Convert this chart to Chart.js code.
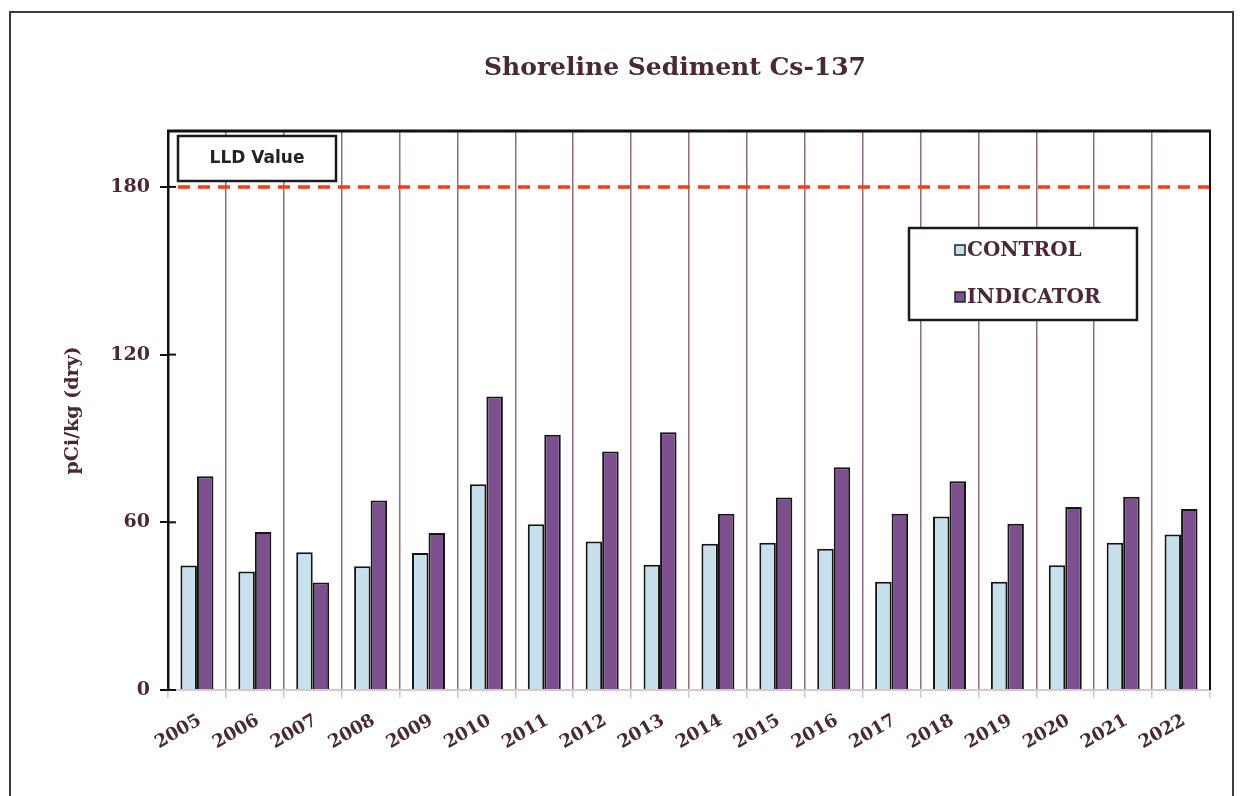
<!DOCTYPE html>
<html>
<head>
<meta charset="utf-8">
<script src="https://cdn.jsdelivr.net/npm/chart.js@4.4.1/dist/chart.umd.min.js"></script>
<style>
  html, body { margin: 0; padding: 0; background: #ffffff; }
  #wrap { width: 1243px; height: 796px; position: relative; }
</style>
</head>
<body>
<div id="wrap"><canvas id="c" width="1243" height="796"></canvas></div>
<script>
const categories = ['2005','2006','2007','2008','2009','2010','2011','2012','2013','2014','2015','2016','2017','2018','2019','2020','2021','2022'];
const controlValues = [44.5, 42.4, 49.3, 44.3, 49.0, 73.6, 59.3, 53.1, 44.8, 52.3, 52.7, 50.5, 38.7, 62.1, 38.7, 44.6, 52.7, 55.6];
const indicatorValues = [76.5, 56.5, 38.5, 67.8, 56.2, 105.0, 91.3, 85.3, 92.2, 63.1, 68.9, 79.7, 63.1, 74.7, 59.5, 65.5, 69.1, 64.8];
const yTickValues = [0, 60, 120, 180];
const yMin = 0;
const yMax = 200;
const lldValue = 180;
const chartTitle = 'Shoreline Sediment Cs-137';
const yAxisTitle = 'pCi/kg (dry)';
const lldLabel = 'LLD Value';
const seriesNames = ['CONTROL', 'INDICATOR'];

const TEXT = '#4a2838';
const SERIF = '"DejaVu Serif", "Liberation Serif", serif';

const decorPlugin = {
  id: 'decor',
  beforeDraw(chart) {
    const ctx = chart.ctx;
    ctx.save();
    ctx.fillStyle = '#ffffff';
    ctx.fillRect(0, 0, chart.width, chart.height);
    ctx.restore();
  },
  afterDatasetsDraw(chart) {
    const ctx = chart.ctx;
    const a = chart.chartArea;
    const y = chart.scales.y;
    ctx.save();
    // LLD dashed line
    const ly = y.getPixelForValue(lldValue);
    ctx.strokeStyle = '#ff3a12';
    ctx.lineWidth = 3.5;
    ctx.setLineDash([12, 8]);
    ctx.beginPath();
    ctx.moveTo(a.left + 10, ly);
    ctx.lineTo(a.right, ly);
    ctx.stroke();
    ctx.setLineDash([]);

    // LLD box
    ctx.fillStyle = '#ffffff';
    ctx.fillRect(178, 136, 158, 45);
    ctx.strokeStyle = '#1a1a1a';
    ctx.lineWidth = 2.5;
    ctx.strokeRect(178, 136, 158, 45);
    ctx.fillStyle = '#222222';
    ctx.font = 'bold 17px "DejaVu Sans", "Liberation Sans", sans-serif';
    ctx.textAlign = 'center';
    ctx.textBaseline = 'middle';
    ctx.fillText(lldLabel, 257, 159);

    // Legend box
    const lx = 909, lyTop = 228, lw = 228, lh = 92;
    ctx.fillStyle = '#ffffff';
    ctx.fillRect(lx, lyTop, lw, lh);
    ctx.strokeStyle = '#1a1a1a';
    ctx.lineWidth = 2.5;
    ctx.strokeRect(lx, lyTop, lw, lh);
    ctx.font = 'bold 20px ' + SERIF;
    ctx.textAlign = 'left';
    ctx.textBaseline = 'middle';
    chart.data.datasets.forEach((ds, i) => {
      const cy = lyTop + 22 + i * 47;
      ctx.fillStyle = ds.backgroundColor;
      ctx.fillRect(955, cy - 5, 10, 10);
      ctx.strokeStyle = '#222';
      ctx.lineWidth = 1.5;
      ctx.strokeRect(955, cy - 5, 10, 10);
      ctx.fillStyle = TEXT;
      ctx.fillText(ds.label, 967, cy + 1);
    });

    // Plot top and right borders
    ctx.strokeStyle = '#111111';
    ctx.lineWidth = 3;
    ctx.beginPath();
    ctx.moveTo(a.left - 1, a.top);
    ctx.lineTo(a.right + 1, a.top);
    ctx.stroke();
    ctx.lineWidth = 2;
    ctx.beginPath();
    ctx.moveTo(a.right, a.top);
    ctx.lineTo(a.right, a.bottom);
    ctx.stroke();

    // inner y tick marks
    ctx.lineWidth = 2;
    y.ticks.forEach(t => {
      const py = y.getPixelForValue(t.value);
      ctx.beginPath();
      ctx.moveTo(a.left, py);
      ctx.lineTo(a.left + 8, py);
      ctx.stroke();
    });
    ctx.restore();
  },
  afterDraw(chart) {
    const ctx = chart.ctx;
    ctx.save();
    ctx.fillStyle = TEXT;
    ctx.font = 'bold 25px ' + SERIF;
    ctx.textAlign = 'center';
    ctx.textBaseline = 'middle';
    ctx.fillText(chartTitle, 675, 68);
    // outer frame
    ctx.strokeStyle = '#3a3a3a';
    ctx.lineWidth = 2;
    ctx.strokeRect(10, 12, 1223, 800);
    ctx.restore();
  }
};

new Chart(document.getElementById('c'), {
  type: 'bar',
  data: {
    labels: categories,
    datasets: [
      {
        label: seriesNames[0],
        data: controlValues,
        backgroundColor: '#c8e0eb',
        borderColor: '#151515',
        borderWidth: 2,
        borderSkipped: 'bottom',
        categoryPercentage: 0.57,
        barPercentage: 1.0
      },
      {
        label: seriesNames[1],
        data: indicatorValues,
        backgroundColor: '#7c4f8f',
        borderColor: '#151515',
        borderWidth: 2,
        borderSkipped: 'bottom',
        categoryPercentage: 0.57,
        barPercentage: 1.0
      }
    ]
  },
  options: {
    responsive: false,
    animation: false,
    devicePixelRatio: 1,
    layout: { padding: { top: 131, right: 33, left: 0, bottom: 0 } },
    plugins: {
      legend: { display: false },
      title: { display: false },
      tooltip: { enabled: false }
    },
    scales: {
      x: {
        offset: true,
        afterFit(s) { s.height = 106; },
        grid: {
          display: true,
          offset: true,
          drawOnChartArea: true,
          color: '#8e6c86',
          lineWidth: 1.5,
          tickLength: 8,
          tickColor: '#d8caca'
        },
        border: { display: true, color: '#d8c8c8', width: 2 },
        ticks: {
          color: TEXT,
          font: { family: SERIF, size: 18, weight: 'bold' },
          minRotation: 30,
          maxRotation: 30,
          padding: 12,
          labelOffset: 3,
          autoSkip: false
        }
      },
      y: {
        min: yMin,
        max: yMax,
        afterFit(s) { s.width = 168; },
        afterBuildTicks(s) { s.ticks = yTickValues.map(v => ({ value: v })); },
        grid: {
          display: true,
          drawOnChartArea: false,
          tickLength: 8,
          color: '#111111',
          lineWidth: 2
        },
        border: { display: true, color: '#111111', width: 2.5 },
        ticks: {
          color: TEXT,
          font: { family: SERIF, size: 19, weight: 'bold' },
          padding: 10
        },
        title: {
          display: true,
          text: yAxisTitle,
          color: TEXT,
          font: { family: SERIF, size: 19, weight: 'bold' },
          padding: { top: 62, bottom: 0 }
        }
      }
    }
  },
  plugins: [decorPlugin]
});
</script>
</body>
</html>
